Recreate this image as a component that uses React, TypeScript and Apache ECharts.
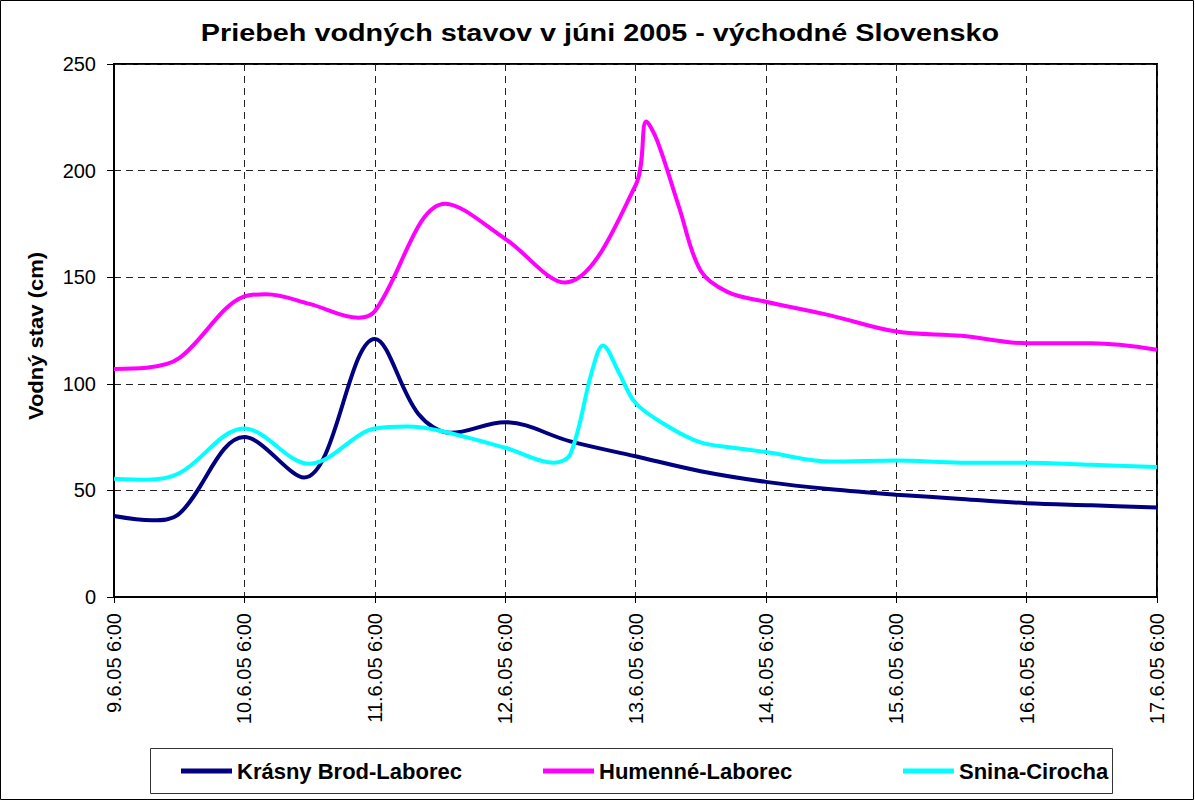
import React, { useEffect, useRef } from "react";
import * as echarts from "echarts";

const xLabels = [
  "9.6.05 6:00",
  "10.6.05 6:00",
  "11.6.05 6:00",
  "12.6.05 6:00",
  "13.6.05 6:00",
  "14.6.05 6:00",
  "15.6.05 6:00",
  "16.6.05 6:00",
  "17.6.05 6:00",
];

const yTicks = [0, 50, 100, 150, 200, 250];

const seriesNames = ["Krásny Brod-Laborec", "Humenné-Laborec", "Snina-Cirocha"];

// hours since 9.6.05 6:00
const krasnyHours = [0, 7, 12, 24, 35, 48, 56, 62, 72, 84, 96, 108, 120, 132, 144, 156, 168, 180, 192];
const krasnyValues = [38, 36, 39, 75, 56, 121, 86, 77, 82, 73, 66, 59, 54, 50.5, 48, 46, 44, 43, 42];

const humenneHours = [0, 6, 12, 24, 28, 36, 45, 48, 61, 72, 83, 96, 98, 100, 104, 108, 113, 120, 132, 144, 156, 168, 180, 192];
const humenneValues = [107, 107.5, 112, 141, 142, 137.5, 131, 134, 184.5, 168, 147.5, 193, 223, 214, 183, 153, 143, 138.5, 132, 124.5, 122.5, 119, 119, 116];

const sninaHours = [0, 6, 12, 24, 36, 48, 54, 60, 72, 81, 84, 88, 90, 93, 96, 102, 108, 114, 120, 132, 144, 156, 168, 180, 192];
const sninaValues = [55.5, 55, 58, 79, 62.5, 79, 80, 78, 70, 63, 67, 106, 118, 105, 91, 80, 72.5, 70, 68, 63.5, 64, 63, 63, 62, 61];

const colors = ["#000080", "#FF00FF", "#00FFFF"];

const FONT = "'Liberation Sans', Arial, sans-serif";

function pairs(h: number[], v: number[]) {
  return h.map((x, i) => [x, v[i]]);
}

export default function App() {
  const ref = useRef<HTMLDivElement>(null);

  useEffect(() => {
    if (!ref.current) return;
    const chart = echarts.init(ref.current, null, { renderer: "svg" });
    const dataSets = [
      pairs(krasnyHours, krasnyValues),
      pairs(humenneHours, humenneValues),
      pairs(sninaHours, sninaValues),
    ];
    const legendLefts = [181, 543, 903];
    chart.setOption({
      animation: false,
      backgroundColor: "#ffffff",
      textStyle: { fontFamily: FONT },
      grid: {
        left: 114,
        top: 64,
        right: 38,
        bottom: 204,
        show: true,
        borderColor: "#000",
        borderWidth: 2,
      },
      xAxis: {
        type: "value",
        min: 0,
        max: 192,
        interval: 24,
        axisLine: { show: true, lineStyle: { color: "#000", width: 2 } },
        axisTick: { show: true, length: 6, lineStyle: { color: "#000" } },
        axisLabel: {
          rotate: 90,
          margin: 16,
          color: "#000",
          fontSize: 20,
          fontFamily: FONT,
          formatter: (v: number) => xLabels[Math.round(v / 24)] ?? "",
        },
        splitLine: { show: true, lineStyle: { color: "#222", type: [7, 5], width: 1 } },
      },
      yAxis: {
        type: "value",
        min: yTicks[0],
        max: yTicks[yTicks.length - 1],
        interval: 50,
        axisLine: { show: true, lineStyle: { color: "#000", width: 2 } },
        axisTick: { show: true, length: 7, lineStyle: { color: "#000" } },
        axisLabel: { margin: 18, color: "#000", fontSize: 20, fontFamily: FONT },
        splitLine: { show: true, lineStyle: { color: "#222", type: [7, 5], width: 1 } },
      },
      legend: seriesNames.map((name, i) => ({
        data: [name],
        left: legendLefts[i],
        top: 760,
        padding: 0,
        icon: "rect",
        itemWidth: 51,
        itemHeight: 5,
        textStyle: { color: "#000", fontSize: 22, fontWeight: "bold", fontFamily: FONT },
        selectedMode: false,
      })),
      graphic: [
        {
          type: "rect",
          shape: { x: 0.5, y: 0.5, width: 1193, height: 799 },
          style: { fill: "none", stroke: "#000", lineWidth: 1 },
          silent: true,
        },
        {
          type: "rect",
          shape: { x: 150.5, y: 748.5, width: 962, height: 45 },
          style: { fill: "none", stroke: "#333", lineWidth: 1 },
          silent: true,
        },
        {
          type: "text",
          x: 600,
          y: 33,
          scaleX: 1.2,
          style: {
            text: "Priebeh vodných stavov v júni 2005 - východné Slovensko",
            font: `bold 24px ${FONT}`,
            fill: "#000",
            textAlign: "center",
            textVerticalAlign: "middle",
          },
        },
        {
          type: "text",
          x: 36,
          y: 336,
          rotation: Math.PI / 2,
          scaleX: 1.1,
          style: {
            text: "Vodný stav (cm)",
            font: `bold 20px ${FONT}`,
            fill: "#000",
            textAlign: "center",
            textVerticalAlign: "middle",
          },
        },
      ],
      series: seriesNames.map((name, i) => ({
        name,
        type: "line",
        smooth: 0.35,
        showSymbol: false,
        symbol: "none",
        data: dataSets[i],
        lineStyle: { color: colors[i], width: 4 },
        itemStyle: { color: colors[i] },
        z: 3 + i,
      })),
    });
    return () => chart.dispose();
  }, []);

  return (
    <div
      ref={ref}
      style={{ position: "fixed", left: 0, top: 0, width: 1195, height: 801, background: "#fff" }}
    />
  );
}
